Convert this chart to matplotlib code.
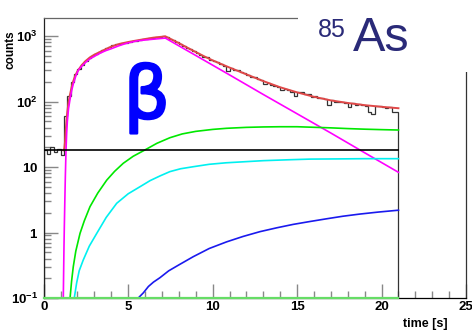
import numpy as np
import matplotlib
matplotlib.use("Agg")
import matplotlib.pyplot as plt
import matplotlib.patheffects as pe
from matplotlib.ticker import MultipleLocator, LogLocator, FixedLocator, NullFormatter
from matplotlib.patches import Rectangle

plt.rcParams['font.family'] = ['Liberation Sans', 'DejaVu Sans']
plt.rcParams['mathtext.fontset'] = 'custom'
plt.rcParams['mathtext.bf'] = 'Liberation Sans:bold'
plt.rcParams['mathtext.rm'] = 'Liberation Sans:bold'
plt.rcParams['mathtext.default'] = 'bf'

# histogram, 0.2 s bins from 0 to 21 s
bin_edges = np.linspace(0, 21, 106)
hist_counts = [18, 16, 20, 17, 19, 15, 60, 120, 200, 265,
               315, 365, 415, 455, 495, 540, 575, 605, 645, 690,
               720, 745, 760, 780, 795, 810, 835, 850, 870, 885,
               905, 930, 945, 955, 975, 990, 960, 900, 855, 800,
               750, 700, 660, 630, 585, 560, 520, 480, 470, 435,
               415, 395, 370, 350, 290, 325, 305, 300, 280, 270,
               255, 240, 235, 220, 210, 185, 195, 180, 175, 165,
               150, 155, 150, 140, 120, 140, 138, 130, 128, 118,
               120, 112, 115, 108, 90, 104, 100, 98, 100, 96,
               82, 95, 90, 92, 90, 85, 70, 65, 85, 84,
               83, 80, 82, 68, 70]

# total fit (red)
fit_t = [1.16, 1.22, 1.26, 1.3, 1.35, 1.4, 1.47, 1.55, 1.65, 1.75, 1.87, 2.0, 2.25, 2.5, 2.75,
         3.0, 3.5, 4.0, 4.5, 5.0, 5.5, 6.0, 6.5, 7.0, 7.2,
         7.5, 8.0, 8.5, 9.0, 9.5, 10, 11, 12, 13, 14, 15, 16, 17, 18, 19, 20, 21]
fit_v = [18, 19, 24, 35, 52, 70, 98, 125, 165, 205, 250, 290, 360, 420, 475,
         520, 600, 690, 760, 810, 855, 900, 945, 975, 990,
         905, 780, 665, 570, 490, 425, 330, 260, 205, 165, 138, 118, 104, 95, 88, 83, 79]

# parent decay (magenta)
par_t = [1.16, 1.18, 1.2, 1.22, 1.25, 1.28, 1.32, 1.36, 1.4, 1.47, 1.55, 1.65, 1.75, 1.9, 2.05,
         2.25, 2.5, 2.75, 3.0, 3.33, 3.65, 4.0, 4.45, 4.9, 5.5, 6.0, 6.6, 7.2,
         9.0, 11.0, 13.0, 15.0, 17.0, 19.0, 21.0]
par_v = [0.1, 0.25, 0.6, 1.2, 3, 7, 18, 33, 50, 78, 105, 145, 185, 245, 300,
         345, 400, 450, 490, 545, 595, 640, 710, 775, 840, 870, 900, 930,
         505, 255, 128, 65, 33, 16.5, 8.3]

# daughter (green)
dau_t = [1.56, 1.65, 1.75, 1.9, 2.15, 2.4, 2.74, 3.2, 3.73, 4.2, 4.71, 5.3, 5.99, 6.7, 7.47,
         8.2, 9.0, 10.0, 10.83, 12, 13, 14, 15, 16, 17, 18, 19, 20, 21]
dau_v = [0.1, 0.18, 0.30, 0.52, 0.97, 1.5, 2.48, 4.0, 6.3, 8.6, 11.4, 14.6, 18.2, 23, 28,
         32, 35, 37.5, 39, 40.3, 40.9, 41.2, 41.2, 40.4, 39.6, 38.6, 37.8, 37.2, 36.7]

# granddaughter (cyan)
gd_t = [1.81, 1.95, 2.1, 2.34, 2.7, 3.14, 3.7, 4.32, 5.0, 5.7, 6.3, 6.88, 7.47, 8.1, 8.85,
        9.8, 10.8, 11.8, 13, 14.5, 15.76, 17.5, 19, 21]
gd_v = [0.1, 0.17, 0.26, 0.38, 0.62, 0.97, 1.7, 2.79, 3.9, 5.0, 6.2, 7.3, 8.5, 9.4, 10.1,
        11.0, 11.6, 12.0, 12.5, 12.9, 13.2, 13.3, 13.4, 13.4]

# beta-n branch (blue)
bn_t = [5.6, 5.9, 6.2, 6.5, 6.88, 7.4, 8.0, 8.85, 9.8, 10.83, 11.8, 12.8, 13.8, 14.77,
        15.75, 16.75, 17.7, 18.7, 19.8, 21.0]
bn_v = [0.1, 0.12, 0.15, 0.175, 0.204, 0.26, 0.32, 0.427, 0.57, 0.72, 0.87, 1.03, 1.18, 1.33,
        1.47, 1.62, 1.77, 1.91, 2.05, 2.19]

background = 18.2
t_end = 21.0
y_min, y_max = 0.1, 1884

fig = plt.figure(figsize=(4.72, 3.34), dpi=100)
ax = fig.add_axes([0.0926, 0.1078, 0.8947, 0.8383])

ax.plot([0, t_end], [y_min, y_min], color='#66dd66', lw=1.6, zorder=4, clip_on=False)
ax.stairs(hist_counts, bin_edges, baseline=1e-3, color='#333333', lw=0.9, zorder=2)
ax.plot(fit_t, fit_v, color='#e04848', lw=1.4, zorder=3)
ax.plot(par_t, par_v, color='#ff00ff', lw=1.2, zorder=3)
ax.plot(dau_t, dau_v, color='#00e800', lw=1.2, zorder=3)
ax.plot(gd_t, gd_v, color='#00f0f0', lw=1.2, zorder=3)
ax.plot(bn_t, bn_v, color='#1a1aee', lw=1.2, zorder=3)
ax.plot([0, t_end], [background, background], color='black', lw=1.2, zorder=3)

ax.set_yscale('log')
ax.set_xlim(0, 25)
ax.set_ylim(y_min, y_max)

ax.xaxis.set_major_locator(MultipleLocator(5))
ax.xaxis.set_minor_locator(MultipleLocator(1))
ax.yaxis.set_major_locator(FixedLocator([0.1, 1, 10, 100, 1000]))
ax.yaxis.set_minor_locator(LogLocator(base=10, subs=np.arange(2, 10)))
ax.yaxis.set_minor_formatter(NullFormatter())
ax.set_yticklabels(['$10^{-1}$', '$1$', '$10$', '$10^{2}$', '$10^{3}$'])
ax.set_xticks([0, 5, 10, 15, 20, 25])
ax.set_xticklabels(['0', '5', '10', '15', '20', '25'], fontweight='bold')

ax.tick_params(which='both', direction='in', color='#888888', labelsize=9.5,
               top=False, right=False)
ax.tick_params(which='major', length=10, width=1)
ax.tick_params(which='minor', length=5, width=1)
ax.tick_params(axis='y', pad=4)
ax.tick_params(axis='x', pad=2)

for s in ax.spines.values():
    s.set_linewidth(0.9)
ax.spines['top'].set_color('#666666')
ax.spines['left'].set_color('#222222')
ax.spines['right'].set_color('#333333')

fig.text(425 / 472, 1 - 324 / 334, 'time [s]', ha='center', va='center',
         fontsize=9, fontweight='bold')
fig.text(10 / 472, 1 - 50 / 334, 'counts', ha='center', va='center',
         rotation=90, fontsize=8.5, fontweight='bold')

# white label box hiding the upper right frame corner
fig.add_artist(Rectangle((298 / 472, 1 - 72 / 334), 1, 1, transform=fig.transFigure,
                         facecolor='white', edgecolor='none', zorder=5))
fig.text(318 / 472, 1 - 37 / 334, '85', fontsize=18, color='#2a2a78', zorder=6,
         ha='left', va='baseline')
fig.text(353 / 472, 1 - 51 / 334, 'As', fontsize=35, color='#2a2a78', zorder=6,
         ha='left', va='baseline')

ax.text(6.1, 110, 'β', fontsize=52, color='#0000ff', ha='center', va='center',
        family=['DejaVu Sans'],
        path_effects=[pe.withStroke(linewidth=1.8, foreground='#0000ff')])

fig.savefig('out.png', dpi=100)
